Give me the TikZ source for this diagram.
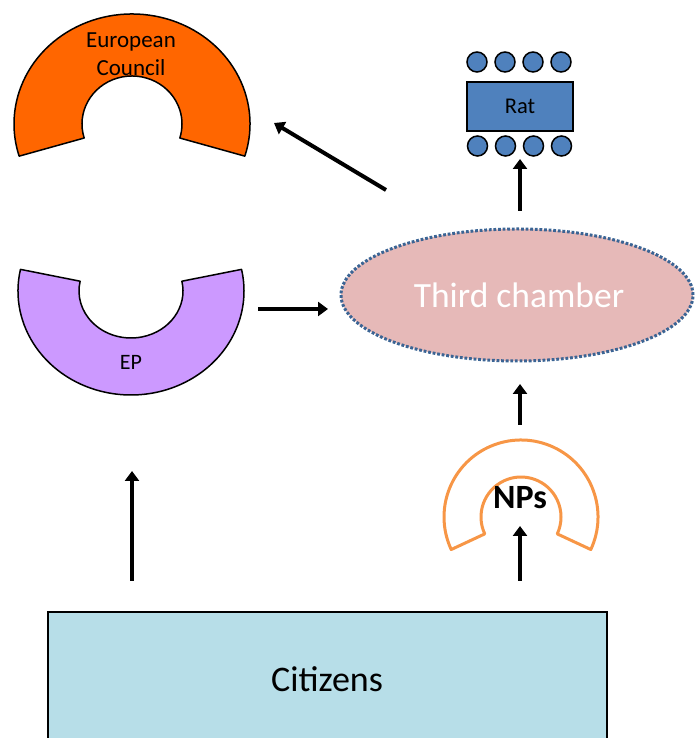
\documentclass[tikz,border=0pt]{standalone}
\usepackage{fontspec}
\setmainfont{Carlito}
\usetikzlibrary{arrows.meta,calc,shapes.geometric}
\definecolor{ecorange}{HTML}{FF6600}
\definecolor{eppurple}{HTML}{CC99FF}
\definecolor{tcpink}{HTML}{E6B9B8}
\definecolor{tcborder}{HTML}{3B6494}
\definecolor{ratblue}{HTML}{4F81BD}
\definecolor{citblue}{HTML}{B7DEE8}
\definecolor{nporange}{HTML}{F79646}
\tikzset{
  shapeline/.style={draw=black,line width=1.5pt,line join=round},
  conn/.style={line width=4pt,-{Triangle[width=14pt,length=10pt]}},
  seat/.style={circle,draw=black,line width=1.5pt,fill=ratblue,minimum size=20pt,inner sep=0pt},
  lbl/.style={font=\fontsize{23}{28}\selectfont,align=center,inner sep=0pt}
}
\begin{document}
\begin{tikzpicture}[x=1pt,y=1pt]
\useasboundingbox (0,0) rectangle (695,738);
\clip (0,0) rectangle (695,738);
% European Council
\coordinate (ecc) at (132,614);
\draw[shapeline,fill=ecorange] ($(ecc)+(-17:118pt and 110pt)$) arc[start angle=-17,end angle=197,x radius=118pt,y radius=110pt]
  -- ($(ecc)+(197:50pt and 48pt)$) arc[start angle=197,end angle=-17,x radius=50pt,y radius=48pt] -- cycle;
\node[lbl] (ec) at (131,684) {European\\Council};
% EP
\coordinate (epc) at (131,447);
\draw[shapeline,fill=eppurple] ($(epc)+(168:113pt and 104pt)$) arc[start angle=168,end angle=372,x radius=113pt,y radius=104pt]
  -- ($(epc)+(12:52pt and 47pt)$) arc[start angle=372,end angle=168,x radius=52pt,y radius=47pt] -- cycle;
\node[lbl,font=\fontsize{22}{26}\selectfont] (ep) at (131,376) {EP};
% Third chamber
\node[ellipse,draw=none,fill=tcpink,minimum width=352pt,minimum height=132pt,inner sep=0pt] (tc) at (517,443) {};
\draw[tcborder,line width=3pt,dash pattern=on 2.8pt off 1.8pt] (517,443) ellipse[x radius=176pt,y radius=66pt];
\node[text=white,font=\fontsize{35.5}{40}\selectfont] at (519,443) {Third chamber};
% Rat
\node[draw=black,line width=2pt,fill=ratblue,minimum width=106pt,minimum height=49pt,inner sep=0pt,font=\fontsize{22.5}{26}\selectfont] (rat) at (520,631.5) {Rat};
\foreach \i/\x in {1/477,2/505,3/533,4/561}{
  \node[seat] (t\i) at (\x,676) {};
  \node[seat] (b\i) at (\x+0.5,592) {};
}
% NPs
\coordinate (npc) at (521,221);
\draw[nporange,line width=3pt,line join=round,fill=white] ($(npc)+(-25:77pt)$) arc[start angle=-25,end angle=205,radius=77pt]
  -- ($(npc)+(205:40pt)$) arc[start angle=205,end angle=-25,radius=40pt] -- cycle;
\node[font=\bfseries\fontsize{34}{38}\selectfont,inner sep=0pt] (np) at (520,240) {NPs};
% Citizens
\node[draw=black,line width=2pt,fill=citblue,minimum width=559pt,minimum height=140pt,inner sep=0pt,anchor=north west] (cit) at (47,127) {};
\node[font=\fontsize{36}{40}\selectfont] (citl) at (327,59) {Citizens};
% connectors
\coordinate (a1s) at (386,548); \coordinate (a1e) at (274,615);
\coordinate (a2s) at (258,429); \coordinate (a2e) at (328,429);
\coordinate (a3s) at (520,527); \coordinate (a3e) at (520,579);
\coordinate (a4s) at (520,313); \coordinate (a4e) at (520,354);
\coordinate (a5s) at (520,157); \coordinate (a5e) at (520,212);
\coordinate (a6s) at (132,157); \coordinate (a6e) at (132,267);
\foreach \n in {1,...,6}{\draw[conn] (a\n s) -- (a\n e);}
\end{tikzpicture}
\end{document}
